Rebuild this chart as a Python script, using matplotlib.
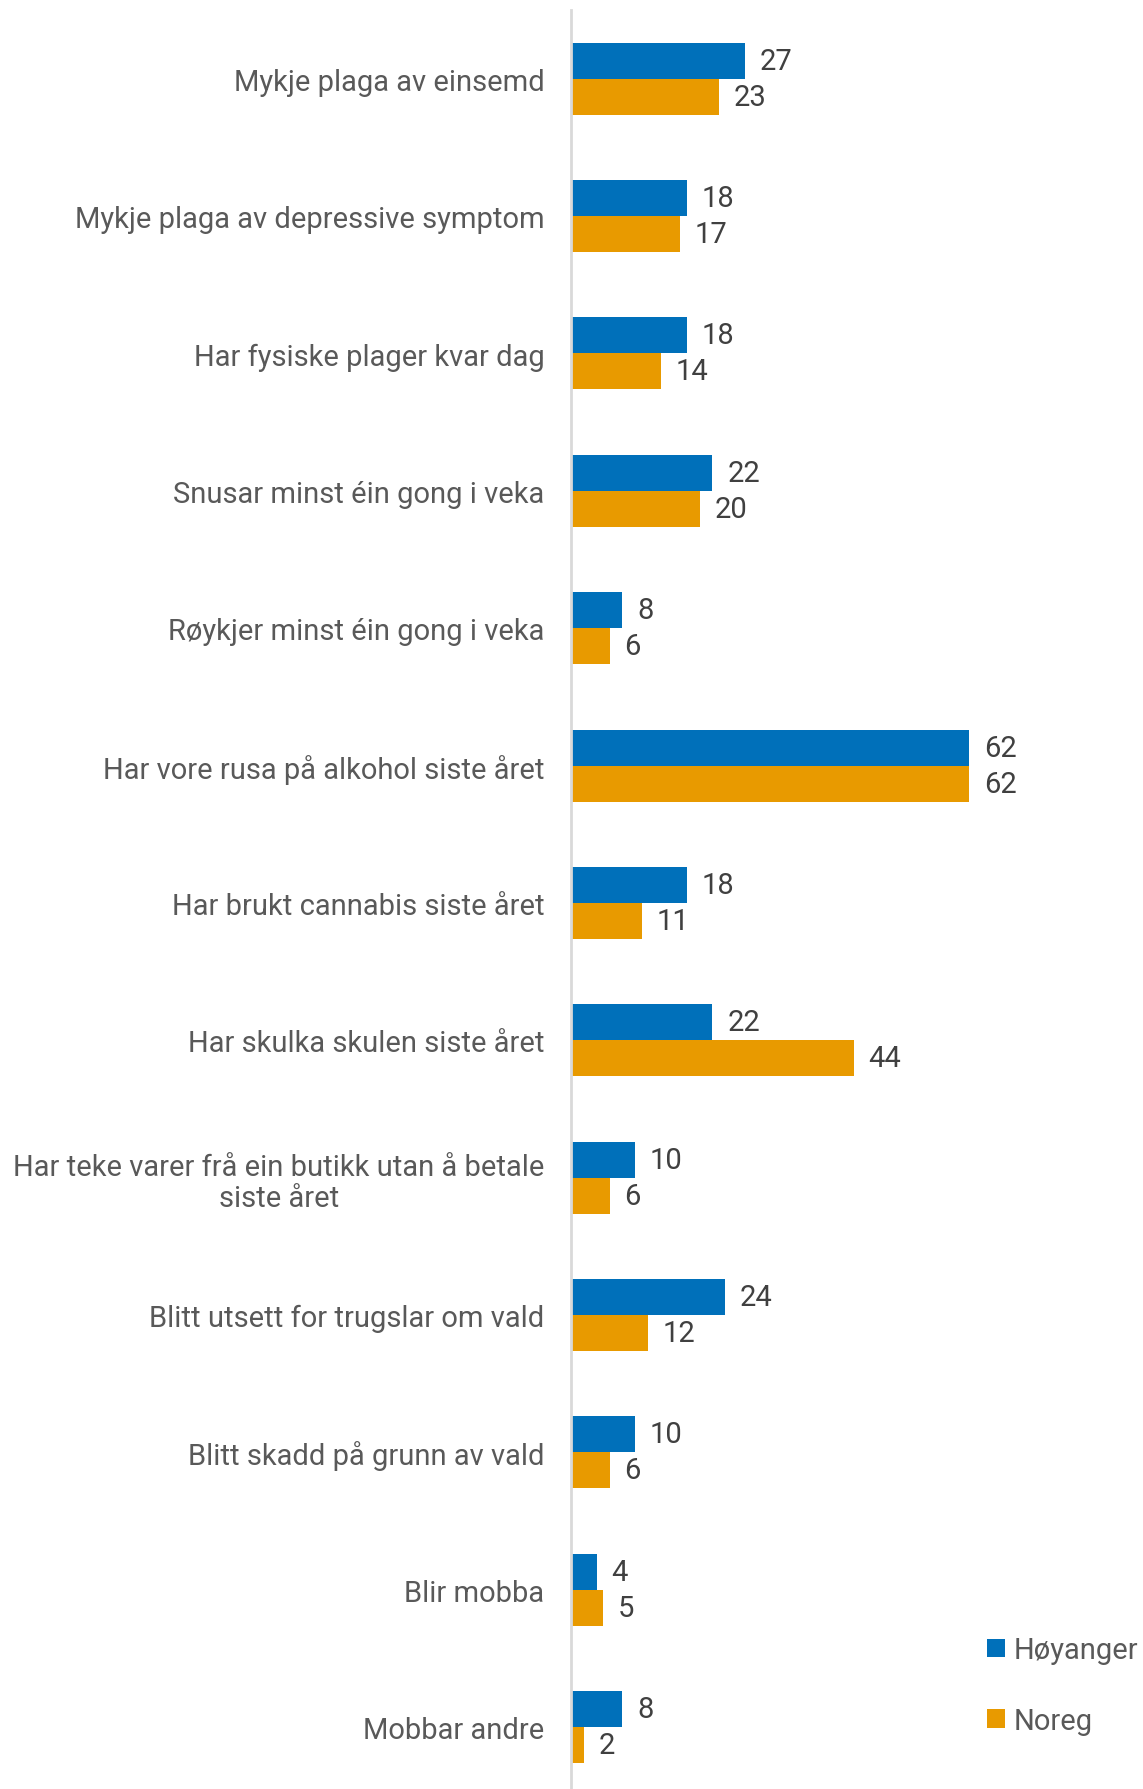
import numpy as np
import matplotlib.pyplot as plt

plt.rcParams['font.family'] = ['Roboto', 'DejaVu Sans']

categories = [
    "Mykje plaga av einsemd",
    "Mykje plaga av depressive symptom",
    "Har fysiske plager kvar dag",
    "Snusar minst éin gong i veka",
    "Røykjer minst éin gong i veka",
    "Har vore rusa på alkohol siste året",
    "Har brukt cannabis siste året",
    "Har skulka skulen siste året",
    "Har teke varer frå ein butikk utan å betale\nsiste året",
    "Blitt utsett for trugslar om vald",
    "Blitt skadd på grunn av vald",
    "Blir mobba",
    "Mobbar andre",
]
hoyanger = [27, 18, 18, 22, 8, 62, 18, 22, 10, 24, 10, 4, 8]
noreg = [23, 17, 14, 20, 6, 62, 11, 44, 6, 12, 6, 5, 2]

blue = '#0070BA'
orange = '#E89A00'

fig = plt.figure(figsize=(11.43, 17.90), dpi=100)
ax = fig.add_axes([571 / 1143, 0.0, (1143 - 571) / 1143, 1 - 11 / 1790])

n = len(categories)
y = np.arange(n)
h = 0.262

b1 = ax.barh(y - h / 2, hoyanger, height=h, color=blue, label='Høyanger')
b2 = ax.barh(y + h / 2, noreg, height=h, color=orange, label='Noreg')

for bars, vals in ((b1, hoyanger), (b2, noreg)):
    for bar, v in zip(bars, vals):
        ax.text(bar.get_width() + 2.3, bar.get_y() + bar.get_height() / 2, str(v),
                va='center', ha='left', fontsize=21, color='#404040')

ax.set_xlim(0, 89)
ax.set_ylim(n - 0.55, -0.5)
ax.set_yticks(y)
ax.set_yticklabels(categories, fontsize=21, color='#595959', ha='right',
                   multialignment='center', linespacing=1.15)
ax.tick_params(axis='y', length=0, pad=19)
ax.set_xticks([])
for s in ['top', 'right', 'bottom']:
    ax.spines[s].set_visible(False)
ax.spines['left'].set_color('#D9D9D9')
ax.spines['left'].set_linewidth(2)

leg = fig.legend(loc='upper left', bbox_to_anchor=(961 / 1143, 1 - 1611 / 1790),
                 frameon=False, fontsize=21, labelcolor='#595959',
                 handlelength=0.6, handleheight=0.6, handletextpad=0.3,
                 labelspacing=1.45)

fig.savefig('out.png', dpi=100)
